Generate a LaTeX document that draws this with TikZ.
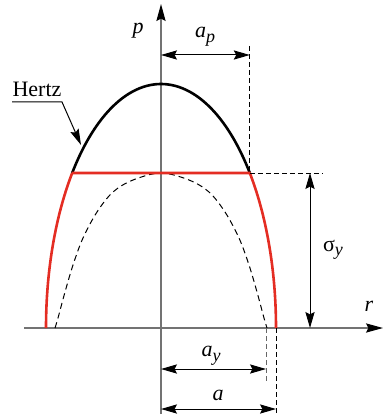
\documentclass[tikz,border=0pt]{standalone}
\usepackage{fontspec}
\setmainfont{Liberation Serif}
\usetikzlibrary{arrows.meta}
\definecolor{yieldred}{RGB}{228,45,35}
\begin{document}
\begin{tikzpicture}[x=0.5pt,y=-0.5pt,
  axisline/.style={draw=black!55, line width=0.6pt},
  dimline/.style={draw=black, line width=0.5pt, {Stealth[length=8pt,width=4.6pt,inset=1.2pt]}-{Stealth[length=8pt,width=4.6pt,inset=1.2pt]}},
  axisarrow/.style={-{Stealth[length=8.5pt,width=4.6pt,inset=1.2pt,color=black]}},
  guide/.style={draw=black, line width=0.45pt, dash pattern=on 2.5pt off 1.5pt},
  lbl/.style={font=\fontsize{11}{13}\selectfont, inner sep=0pt},
  hertz/.style={draw=black, line width=1.3pt},
  redc/.style={draw=yieldred, line width=1.3pt},
  dashc/.style={draw=black, line width=0.5pt, dash pattern=on 3pt off 2pt}]
\useasboundingbox (0,0) rectangle (384,417);
% coordinates
\coordinate (O) at (161,328);
\coordinate (ptop) at (161,4);
\coordinate (pbot) at (161,414);
\coordinate (rl) at (24,328);
\coordinate (rr) at (383,328);
\coordinate (YL) at (72.2,173);
\coordinate (YR) at (249.8,173);
\coordinate (apL) at (161,55);
\coordinate (apR) at (249.8,55);
\coordinate (apTop) at (249.8,46);
\coordinate (yEnd) at (322,173);
\coordinate (sT) at (310,173);
\coordinate (sB) at (310,328);
\coordinate (ayL) at (161,369);
\coordinate (ayR) at (266,369);
\coordinate (ayTop) at (266,328);
\coordinate (ayBot) at (266,382);
\coordinate (aL) at (161,409);
\coordinate (aR) at (276,409);
\coordinate (aTop) at (276,328);
\coordinate (aBot) at (276,414);
\coordinate (hU1) at (12,102);
\coordinate (hU2) at (62,102);
\coordinate (hTip) at (81,145);
% axes
\draw[axisline, axisarrow] (pbot) -- (ptop);
\draw[axisline, axisarrow] (rl) -- (rr);
% dashed elastic curve
\draw[dashc] plot[smooth, tension=0.55] coordinates {
  (55,328) (58,318) (65,292) (73,265) (83,238) (97,212) (113,192) (133,180) (161,173)
  (189,180) (209,192) (225,212) (239,238) (249,265) (257,292) (264,318) (267,328)};
% Hertz curve
\draw[hertz] plot[domain=39.45:140.55, samples=80] ({161+115*cos(\x)},{328-244*sin(\x)});
% red curve
\draw[redc, line join=round] plot[domain=0:39.45, samples=40] ({161+115*cos(\x)},{328-244*sin(\x)}) -- (YL);
\draw[redc] plot[domain=140.55:180, samples=40] ({161+115*cos(\x)},{328-244*sin(\x)});
% guides
\draw[guide] (apTop) -- (YR);
\draw[guide] (YR) -- (yEnd);
\draw[guide, draw=black!60] (ayTop) -- (ayBot);
\draw[guide] (aTop) -- (aBot);
% dimensions
\draw[dimline] (apL) -- (apR);
\draw[dimline] (sT) -- (sB);
\draw[dimline] (ayL) -- (ayR);
\draw[dimline] (aL) -- (aR);
% Hertz leader
\draw[line width=0.5pt, -{Stealth[length=8pt,width=4.4pt,inset=1.2pt]}] (hU1) -- (hU2) -- (hTip);
% labels
\node[lbl] (lp) at (138,31) {\itshape p};
\node[lbl] (lr) at (369,306) {\itshape r};
\node[lbl] (lap) at (205,37) {\itshape a\raisebox{-0.45ex}{\fontsize{9}{10}\selectfont p}};
\node[lbl] (lsy) at (333,250) {σ\raisebox{-0.45ex}{\fontsize{9}{10}\selectfont\itshape y}};
\node[lbl] (lay) at (211,356) {\itshape a\raisebox{-0.45ex}{\fontsize{9}{10}\selectfont y}};
\node[lbl] (la) at (218,395) {\itshape a};
\node[lbl, anchor=base] (lh) at (37,97) {Hertz};
\end{tikzpicture}
\end{document}
